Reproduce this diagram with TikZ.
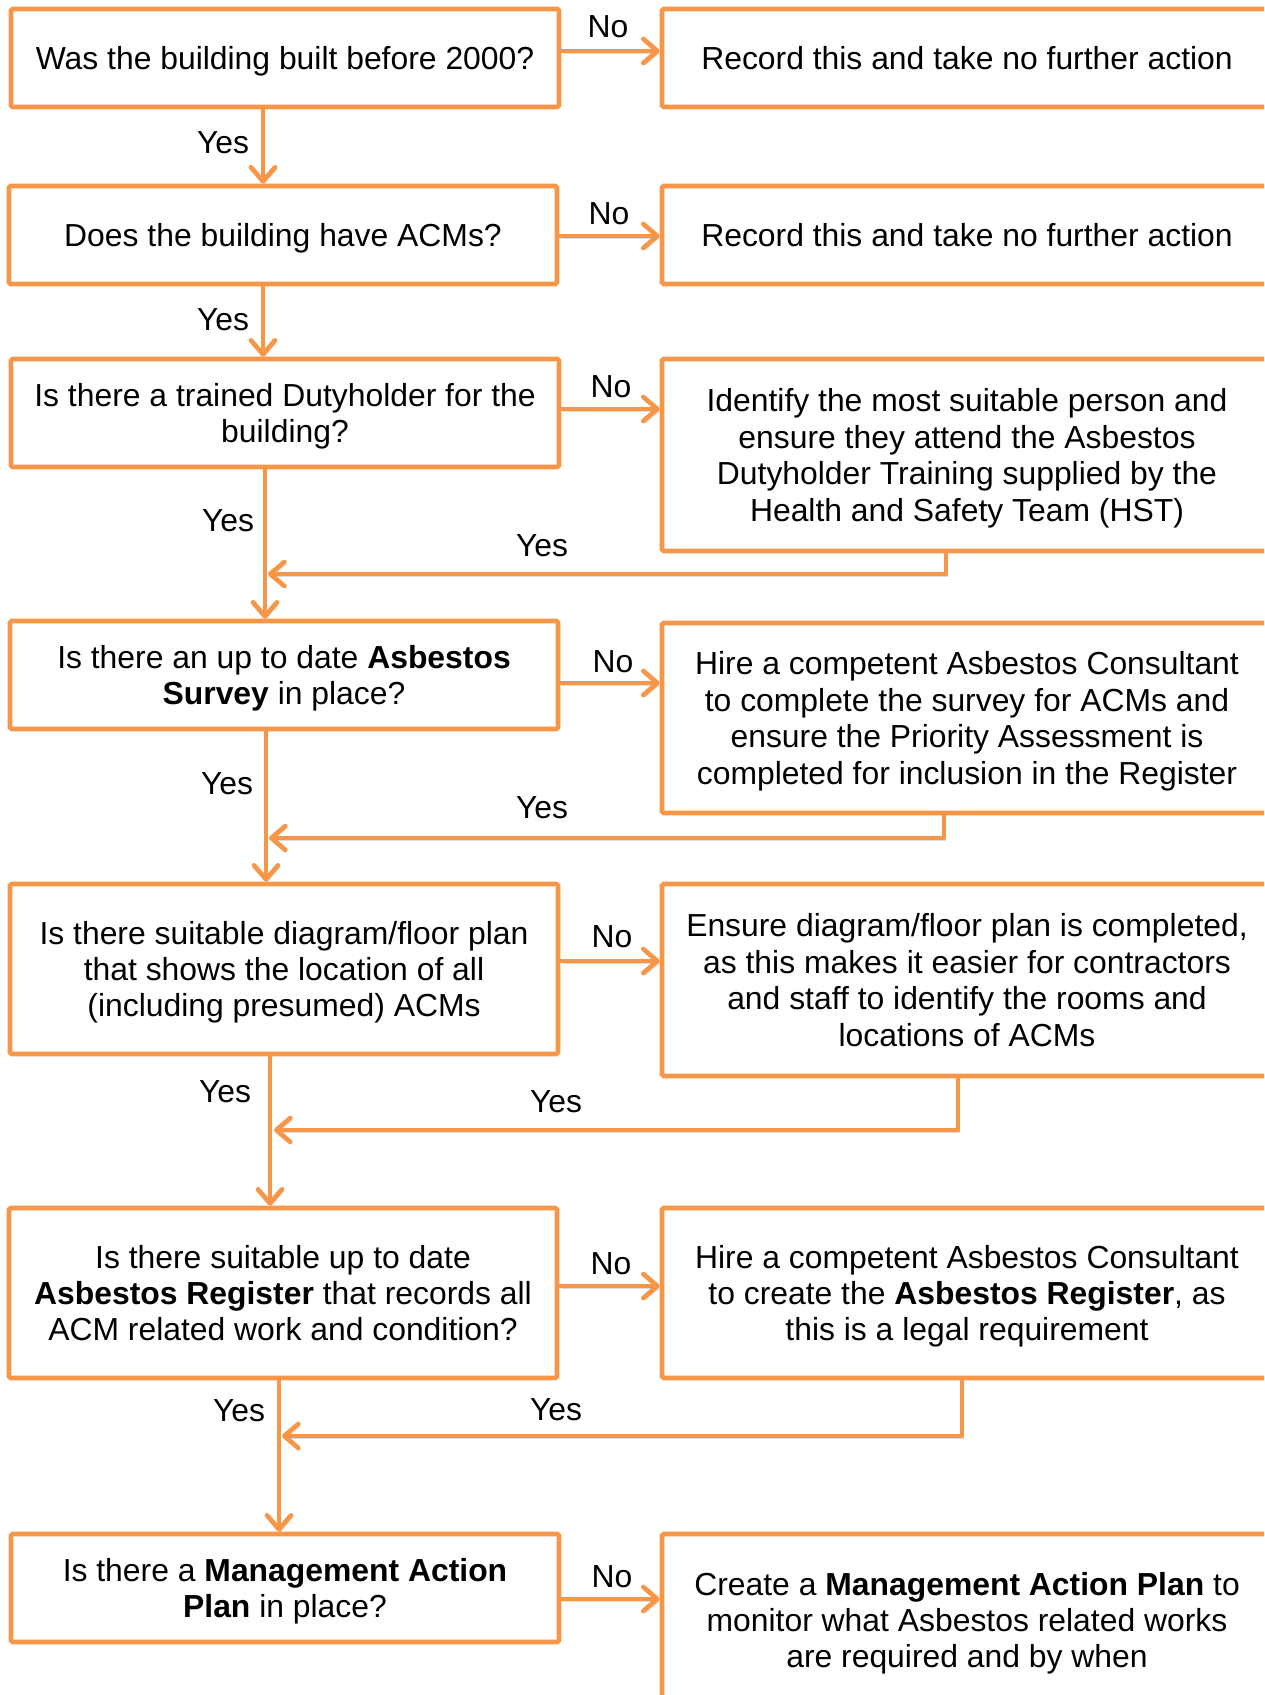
\documentclass[tikz,border=0pt]{standalone}
\usepackage{fontspec}
\setmainfont{Liberation Sans}
\usetikzlibrary{arrows.meta}
\definecolor{acc}{HTML}{F79646}
\begin{document}
\begin{tikzpicture}[x=0.75pt,y=-0.75pt,
  txt/.style={font=\fontsize{23.9}{27.3}\selectfont},
  box/.style={txt, draw=acc, line width=3.5pt, fill=white, align=center, inner sep=0pt, rounded corners=1.2pt, text depth=0pt},
  lbox/.style={box, minimum width=411pt},
  rbox/.style={box, minimum width=457.5pt},
  lbl/.style={txt, inner sep=0pt},
  arr/.style={draw=acc, line width=3.5pt, line cap=round, line join=round,
    -{Straight Barb[length=10.5pt,width=18pt,round]},
    preaction={draw=black, opacity=0.14, transform canvas={shift={(1.2pt,-1.8pt)}}}},
  ln/.style={draw=acc, line width=3.5pt, line cap=round, line join=round}]
\useasboundingbox (0,0) rectangle (1264,1695);
\clip (0,0) rectangle (1264,1695);

% left (question) boxes
\node[lbox, minimum height=73.5pt] (b1) at (285,58) {Was the building built before 2000?};
\node[lbox, minimum height=73.5pt] (b2) at (283,235) {Does the building have ACMs?};
\node[lbox, minimum height=81pt] (b3) at (285,413) {Is there a trained Dutyholder for the\\building?};
\node[lbox, minimum height=81pt] (b4) at (284,675) {Is there an up to date \textbf{Asbestos}\\\textbf{Survey} in place?};
\node[lbox, minimum height=127.5pt] (b5) at (284,969) {Is there suitable diagram/floor plan\\that shows the location of all\\(including presumed) ACMs};
\node[lbox, minimum height=127.5pt] (b6) at (283,1293) {Is there suitable up to date\\\textbf{Asbestos Register} that records all\\ACM related work and condition?};
\node[lbox, minimum height=81pt] (b7) at (285,1588) {Is there a \textbf{Management Action}\\\textbf{Plan} in place?};

% right (action) boxes
\node[rbox, minimum height=73.5pt] (r1) at (967,58) {Record this and take no further action};
\node[rbox, minimum height=73.5pt] (r2) at (967,235) {Record this and take no further action};
\node[rbox, minimum height=144pt] (r3) at (967,455) {Identify the most suitable person and\\ensure they attend the Asbestos\\Dutyholder Training supplied by the\\Health and Safety Team (HST)};
\node[rbox, minimum height=142.5pt] (r4) at (967,718) {Hire a competent Asbestos Consultant\\to complete the survey for ACMs and\\ensure the Priority Assessment is\\completed for inclusion in the Register};
\node[rbox, minimum height=144pt] (r5) at (967,980) {Ensure diagram/floor plan is completed,\\as this makes it easier for contractors\\and staff to identify the rooms and\\locations of ACMs};
\node[rbox, minimum height=127.5pt] (r6) at (967,1293) {Hire a competent Asbestos Consultant\\to create the \textbf{Asbestos Register}, as\\this is a legal requirement};
\node[rbox, minimum height=129pt] (r7) at (967,1620) {Create a \textbf{Management Action Plan} to\\monitor what Asbestos related works\\are required and by when};

% "No" arrows
\draw[arr] (b1.east |- 0,51) -- (r1.west |- 0,51);
\draw[arr] (b2.east |- 0,236) -- (r2.west |- 0,236);
\draw[arr] (b3.east |- 0,409) -- (r3.west |- 0,409);
\draw[arr] (b4.east |- 0,683) -- (r4.west |- 0,683);
\draw[arr] (b5.east |- 0,961) -- (r5.west |- 0,961);
\draw[arr] (b6.east |- 0,1286) -- (r6.west |- 0,1286);
\draw[arr] (b7.east |- 0,1599) -- (r7.west |- 0,1599);

% "Yes" down arrows
\draw[arr] (b1.south -| 263,0) -- (b2.north -| 263,0);
\draw[arr] (b2.south -| 263,0) -- (b3.north -| 263,0);
\draw[arr] (b3.south -| 265,0) -- (b4.north -| 265,0);
\draw[arr] (b4.south -| 266,0) -- (b5.north -| 266,0);
\draw[arr] (b5.south -| 270,0) -- (b6.north -| 270,0);
\draw[arr] (b6.south -| 279,0) -- (b7.north -| 279,0);

% return arrows
\coordinate (j3) at (268,574);
\coordinate (j4) at (269,838);
\coordinate (j5) at (274,1130);
\coordinate (j6) at (282,1436);
\draw[arr] (r3.south -| 946,0) |- (j3);
\draw[arr] (r4.south -| 944,0) |- (j4);
\draw[arr] (r5.south -| 958,0) |- (j5);
\draw[arr] (r6.south -| 962,0) |- (j6);

% labels
\node[lbl] (n1) at (608,27) {No};
\node[lbl] (n2) at (609,214) {No};
\node[lbl] (n3) at (611,387) {No};
\node[lbl] (n4) at (613,662) {No};
\node[lbl] (n5) at (612,937) {No};
\node[lbl] (n6) at (611,1264) {No};
\node[lbl] (n7) at (612,1577) {No};
\node[lbl] (y1) at (223,143) {Yes};
\node[lbl] (y2) at (223,320) {Yes};
\node[lbl] (y3) at (228,521) {Yes};
\node[lbl] (y4) at (227,784) {Yes};
\node[lbl] (y5) at (225,1092) {Yes};
\node[lbl] (y6) at (239,1411) {Yes};
\node[lbl] (y7) at (542,546) {Yes};
\node[lbl] (y8) at (542,808) {Yes};
\node[lbl] (y9) at (556,1102) {Yes};
\node[lbl] (y10) at (556,1410) {Yes};
\end{tikzpicture}
\end{document}
